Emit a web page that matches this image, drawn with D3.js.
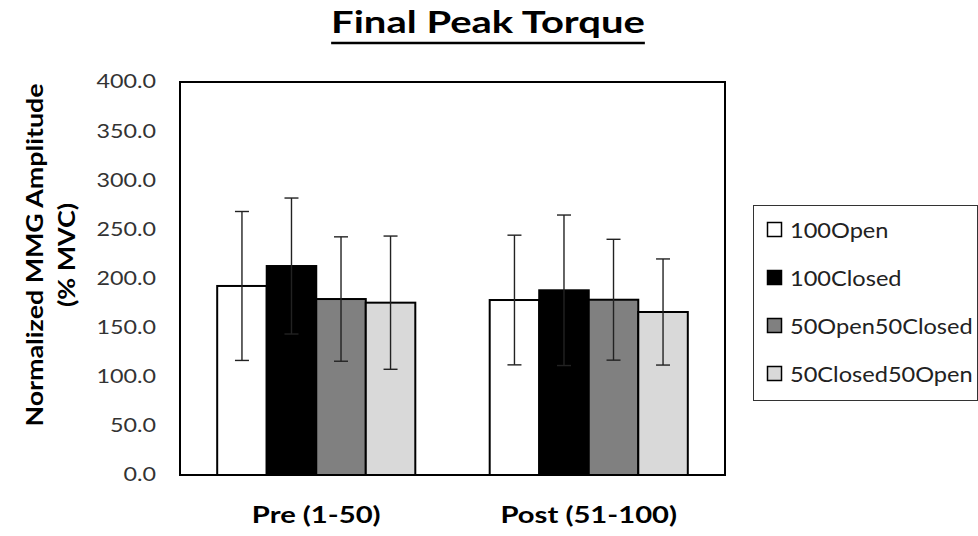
<!DOCTYPE html>
<html>
  <head>
    <meta charset="utf-8">
    <style type="text/css">
      body { margin: 0; background: #fff; }
      text { font-family: Lato, "Open Sans", sans-serif; fill: #000; }
      .tick text { font-size: 18.5px; fill: #333; }
      .cat text { font-size: 23px; font-weight: bold; }
    </style>
  </head>
  <body>
    <script src="https://d3js.org/d3.v7.min.js"></script>
    <script>
      // values
      var categories = ["Pre (1-50)", "Post (51-100)"];
      var seriesNames = ["100Open", "100Closed", "50Open50Closed", "50Closed50Open"];
      var preMeans = [192.4, 212.7, 179.1, 175.4];
      var postMeans = [178.1, 188.0, 178.4, 165.9];
      var preErr = [75.8, 69.2, 63.3, 67.8];
      var postErr = [66.0, 76.6, 61.5, 54.0];
      var yTicks = [0, 50, 100, 150, 200, 250, 300, 350, 400];
      var fills = ["#ffffff", "#000000", "#808080", "#d9d9d9"];

      var width = 978, height = 536;
      var plot = {left: 180, right: 725, top: 82, bottom: 475};

      var rows = [
        {cat: categories[0], means: preMeans, err: preErr},
        {cat: categories[1], means: postMeans, err: postErr}
      ];

      // the original font is a wide-set Calibri, so widen Lato a bit
      function stretch(sel, k) {
        sel.each(function() {
          var len = this.getComputedTextLength();
          d3.select(this)
              .attr("textLength", len * k)
              .attr("lengthAdjust", "spacingAndGlyphs");
        });
      }

      var svg = d3.select("body").append("svg")
          .attr("width", width)
          .attr("height", height);

      var x0 = d3.scaleBand()
          .domain(categories)
          .range([plot.left, plot.right])
          .paddingInner(0.273)
          .paddingOuter(0.1365);

      var x1 = d3.scaleBand()
          .domain(seriesNames)
          .range([0, x0.bandwidth()]);

      var y = d3.scaleLinear()
          .domain([0, 400])
          .range([plot.bottom, plot.top]);

      // title with a drawn underline
      var title = svg.append("text")
          .attr("x", 488)
          .attr("y", 33)
          .attr("text-anchor", "middle")
          .style("font-size", "31px")
          .style("font-weight", "bold")
          .text("Final Peak Torque")
          .call(stretch, 1.29);
      var tb = title.node().getBBox();
      svg.append("line")
          .attr("x1", tb.x)
          .attr("x2", tb.x + tb.width)
          .attr("y1", 43)
          .attr("y2", 43)
          .attr("stroke", "#000")
          .attr("stroke-width", 2.5);

      // y axis labels (no tick marks)
      var yAxis = d3.axisLeft(y)
          .tickValues(yTicks)
          .tickSize(0)
          .tickPadding(24)
          .tickFormat(d3.format(".1f"));

      svg.append("g")
          .attr("transform", "translate(" + plot.left + ",0)")
          .call(yAxis)
          .call(function(g) { g.select(".domain").remove(); })
          .selectAll("text")
          .call(stretch, 1.26);

      // y axis title
      var yt = svg.append("text")
          .attr("transform", "translate(0,255) rotate(-90)")
          .attr("text-anchor", "middle")
          .style("font-size", "22.5px")
          .style("font-weight", "bold");
      yt.append("tspan").attr("x", 0).attr("y", 43).text("Normalized MMG Amplitude");
      yt.append("tspan").attr("x", 0).attr("y", 75).text("(% MVC)");
      yt.selectAll("tspan").call(stretch, 1.19);

      // bars
      var groups = svg.selectAll("g.grp")
          .data(rows)
        .enter().append("g")
          .attr("class", "grp")
          .attr("transform", function(d) { return "translate(" + x0(d.cat) + ",0)"; });

      groups.selectAll("rect")
          .data(function(d) {
            return seriesNames.map(function(s, i) { return {s: s, i: i, v: d.means[i], e: d.err[i]}; });
          })
        .enter().append("rect")
          .attr("x", function(d) { return x1(d.s); })
          .attr("y", function(d) { return y(d.v); })
          .attr("width", x1.bandwidth())
          .attr("height", function(d) { return y(0) - y(d.v); })
          .attr("fill", function(d) { return fills[d.i]; })
          .attr("stroke", "#000")
          .attr("stroke-width", 2);

      // error bars
      var eb = groups.selectAll("g.err")
          .data(function(d) {
            return seriesNames.map(function(s, i) { return {s: s, v: d.means[i], e: d.err[i]}; });
          })
        .enter().append("g")
          .attr("class", "err")
          .attr("stroke", "#222")
          .attr("stroke-width", 1.4);

      eb.append("line")
          .attr("x1", function(d) { return x1(d.s) + x1.bandwidth() / 2; })
          .attr("x2", function(d) { return x1(d.s) + x1.bandwidth() / 2; })
          .attr("y1", function(d) { return y(d.v - d.e); })
          .attr("y2", function(d) { return y(d.v + d.e); });

      [-1, 1].forEach(function(sign) {
        eb.append("line")
            .attr("x1", function(d) { return x1(d.s) + x1.bandwidth() / 2 - 7; })
            .attr("x2", function(d) { return x1(d.s) + x1.bandwidth() / 2 + 7; })
            .attr("y1", function(d) { return y(d.v + sign * d.e); })
            .attr("y2", function(d) { return y(d.v + sign * d.e); });
      });

      // plot frame
      svg.append("rect")
          .attr("x", plot.left)
          .attr("y", plot.top)
          .attr("width", plot.right - plot.left)
          .attr("height", plot.bottom - plot.top)
          .attr("fill", "none")
          .attr("stroke", "#000")
          .attr("stroke-width", 2);

      // category labels
      svg.append("g")
          .attr("class", "cat")
          .selectAll("text")
          .data(categories)
        .enter().append("text")
          .attr("x", function(d) { return x0(d) + x0.bandwidth() / 2; })
          .attr("y", 523)
          .attr("text-anchor", "middle")
          .text(function(d) { return d; })
          .call(stretch, 1.27);

      // legend
      var legend = svg.append("g");
      legend.append("rect")
          .attr("x", 753.5)
          .attr("y", 205.5)
          .attr("width", 224)
          .attr("height", 195)
          .attr("fill", "#fff")
          .attr("stroke", "#333")
          .attr("stroke-width", 1);

      var ly = d3.scalePoint()
          .domain(seriesNames)
          .range([230, 374]);

      var items = legend.selectAll("g.item")
          .data(seriesNames)
        .enter().append("g")
          .attr("class", "item")
          .attr("transform", function(d) { return "translate(0," + ly(d) + ")"; });

      items.append("rect")
          .attr("x", 767.5)
          .attr("y", -7.5)
          .attr("width", 14)
          .attr("height", 14)
          .attr("fill", function(d, i) { return fills[i]; })
          .attr("stroke", "#000")
          .attr("stroke-width", 1.5);

      items.append("text")
          .attr("x", 790)
          .attr("y", 7.5)
          .style("font-size", "20.5px")
          .style("fill", "#222")
          .text(function(d) { return d; })
          .call(stretch, 1.15);
    </script>
  </body>
</html>
